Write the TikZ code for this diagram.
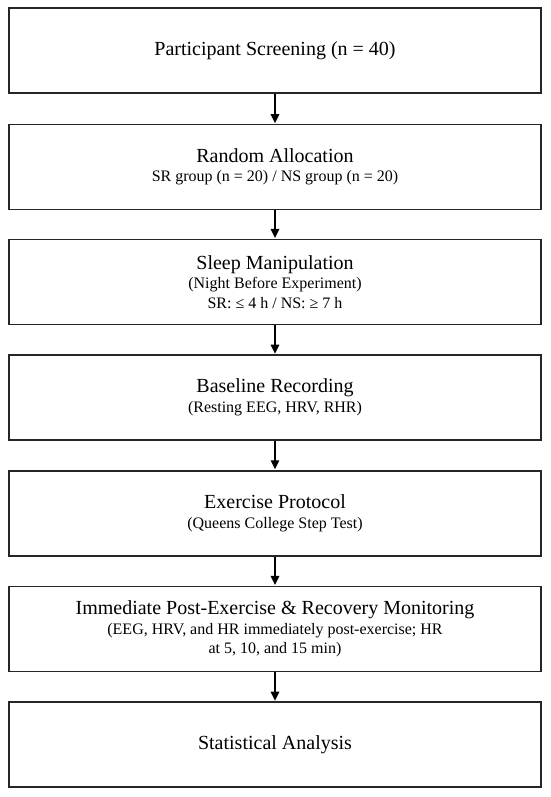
\documentclass[tikz,border=0pt]{standalone}
\usepackage{fontspec}
\setmainfont{Liberation Serif}
\usetikzlibrary{arrows.meta}
\newcommand\subtxt{\fontsize{16}{17.5}\selectfont}
\begin{document}
\begin{tikzpicture}[x=1pt,y=-1pt,
  stage/.style={draw=black!85, line width=1.6pt, minimum width=532pt, minimum height=85pt,
    align=center, inner sep=0pt, font=\fontsize{20}{19.5}\selectfont},
  flow/.style={-{Triangle[length=9pt,width=8.5pt]}, line width=1.5pt, shorten >=0.6pt}]
\useasboundingbox (0,0) rectangle (550,797);
\node[stage] (s1) at (275,50.5) {Participant Screening (n = 40)};
\node[stage] (s2) at (275,167) {Random Allocation\\\subtxt SR group (n = 20) / NS group (n = 20)};
\node[stage] (s3) at (275,281.8) {Sleep Manipulation\\\subtxt (Night Before Experiment)\\\subtxt SR: ≤ 4 h / NS: ≥ 7 h};
\node[stage] (s4) at (275,397.5) {Baseline Recording\\\subtxt (Resting EEG, HRV, RHR)};
\node[stage] (s5) at (275,513.2) {Exercise Protocol\\\subtxt (Queens College Step Test)};
\node[stage] (s6) at (275,628.8) {Immediate Post-Exercise \& Recovery Monitoring\\\subtxt (EEG, HRV, and HR immediately post-exercise; HR\\\subtxt at 5, 10, and 15 min)};
\node[stage] (s7) at (275,744.5) {Statistical Analysis};
\draw[flow] (s1.south) -- (s2.north);
\draw[flow] (s2.south) -- (s3.north);
\draw[flow] (s3.south) -- (s4.north);
\draw[flow] (s4.south) -- (s5.north);
\draw[flow] (s5.south) -- (s6.north);
\draw[flow] (s6.south) -- (s7.north);
\end{tikzpicture}
\end{document}
